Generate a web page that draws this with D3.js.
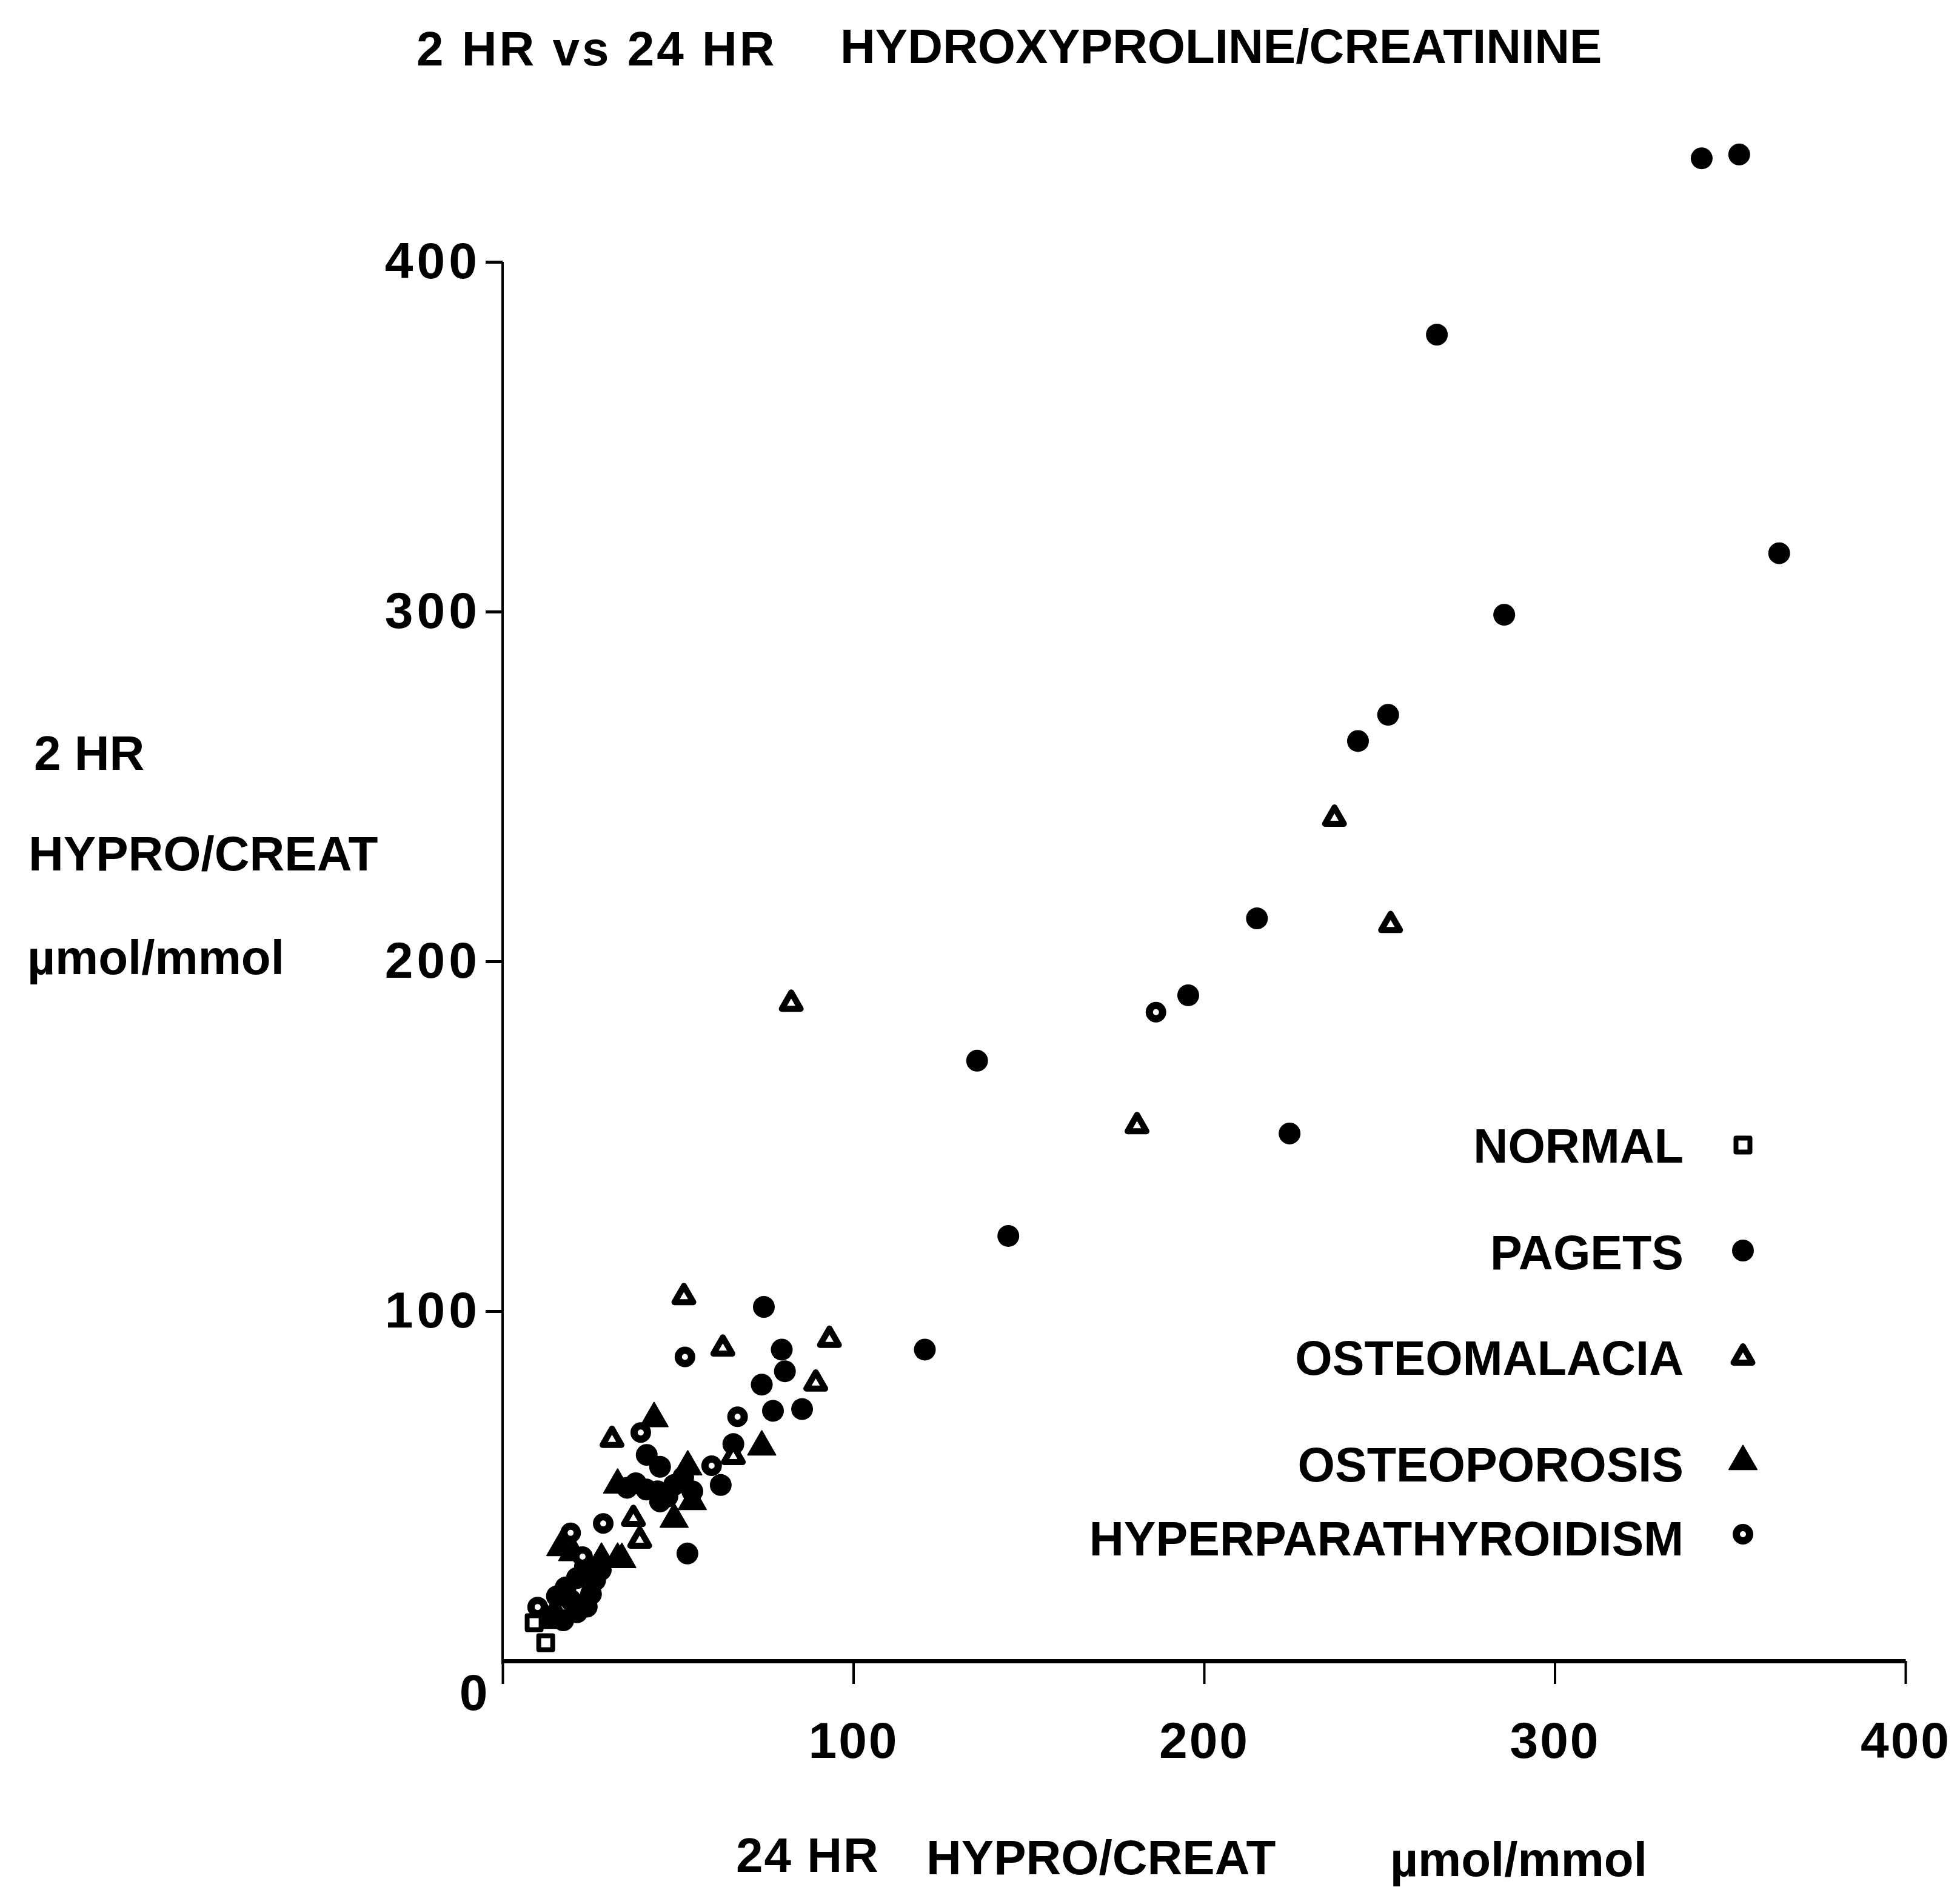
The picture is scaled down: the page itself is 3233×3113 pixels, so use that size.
<!DOCTYPE html>
<html>
<head>
<meta charset="utf-8">
<script src="https://cdn.jsdelivr.net/npm/d3@7"></script>
<style>
  html, body { margin: 0; padding: 0; background: #fff; }
  svg { display: block; }
  text { font-family: "Liberation Sans", Arial, Helvetica, sans-serif; font-weight: bold; fill: #000; }
</style>
</head>
<body>
<script>
// ---------- data (x = 24 HR hypro/creat, y = 2 HR hypro/creat, µmol/mmol) ----------
const normal = [[12.3, 5.2], [9.0, 10.9]];

const pagets = [
  [341.9, 429.6], [352.6, 430.7], [266.4, 379.2], [364.0, 316.7], [285.6, 299.1],
  [252.5, 270.5], [243.9, 263.0], [215.1, 212.3], [195.5, 190.3], [135.3, 171.6],
  [224.4, 150.8], [144.2, 121.5], [120.4, 89.0],
  [74.5, 101.2], [79.6, 89.0], [80.5, 82.8], [73.9, 79.0], [77.1, 71.5], [85.4, 72.0],
  [65.8, 62.0], [62.2, 50.3], [52.7, 30.7],
  [41.1, 58.9], [44.9, 55.5], [38.0, 50.8], [44.2, 48.5], [48.9, 50.3], [54.1, 48.5],
  [44.9, 45.6], [35.5, 49.5], [41.0, 49.0], [51.5, 52.5], [47.0, 47.0],
  [21.2, 23.7], [26.4, 23.1], [19.5, 17.3], [15.5, 18.5], [21.2, 13.9],
  [17.3, 11.6], [25.2, 19.1], [23.5, 27.0], [28.0, 26.0], [18.0, 21.0], [24.0, 15.5]
];

const osteomalacia = [
  [82.3, 188.0], [180.9, 153.0], [237.2, 240.9], [253.2, 210.5], [51.7, 104.1],
  [62.8, 89.4], [93.2, 91.9], [89.3, 79.4], [31.2, 63.3], [37.3, 40.7], [39.1, 34.5],
  [65.8, 58.4]
];

const osteoporosis = [
  [73.9, 61.2], [48.9, 40.5], [43.2, 69.3], [16.6, 32.4], [52.8, 55.5], [32.8, 50.3],
  [54.1, 45.6], [28.2, 29.1], [32.8, 29.1], [34.0, 29.0], [14.9, 13.9], [12.6, 11.6],
  [20.0, 31.0]
];

const hyperparathyroidism = [
  [186.3, 185.5], [52.0, 86.9], [39.4, 65.3], [67.0, 69.8], [59.6, 55.8],
  [28.7, 39.3], [19.4, 36.6], [22.8, 29.8], [10.0, 15.4]
];

const xTicks = [0, 100, 200, 300, 400];
const yTicks = [100, 200, 300, 400];
const legendLabels = ["NORMAL", "PAGETS", "OSTEOMALACIA", "OSTEOPOROSIS", "HYPERPARATHYROIDISM"];

// ---------- layout ----------
const W = 3233, H = 3113;
const svg = d3.select("body").append("svg").attr("width", W).attr("height", H);
svg.append("rect").attr("width", W).attr("height", H).attr("fill", "#fff");

const x = d3.scaleLinear().domain([0, 400]).range([829, 3143]);
const y = d3.scaleLinear().domain([0, 400]).range([2740, 432]);

// ---------- axes ----------
const xAxis = svg.append("g").attr("transform", `translate(0,${y(0)})`)
  .call(d3.axisBottom(x).tickValues(xTicks).tickSize(38).tickSizeOuter(0).tickPadding(62)
    .tickFormat(d => d === 0 ? "" : d));
xAxis.select(".domain").attr("stroke", "#000").attr("stroke-width", 7);
xAxis.selectAll(".tick line").attr("stroke", "#000").attr("stroke-width", 4);
xAxis.selectAll(".tick text").attr("font-size", 84).attr("letter-spacing", 3)
  .attr("font-family", "Liberation Sans").attr("font-weight", "bold").attr("fill", "#000");

const yAxis = svg.append("g").attr("transform", `translate(${x(0)},0)`)
  .call(d3.axisLeft(y).tickValues(yTicks).tickSize(28).tickSizeOuter(0).tickPadding(8));
yAxis.select(".domain").attr("stroke", "#000").attr("stroke-width", 4)
  .attr("d", `M0,${y(0) + 5}V${y(400)}`);
yAxis.selectAll(".tick line").attr("stroke", "#000").attr("stroke-width", 5);
yAxis.selectAll(".tick text").attr("font-size", 84).attr("letter-spacing", 6)
  .attr("font-family", "Liberation Sans").attr("font-weight", "bold").attr("fill", "#000");

svg.append("text").attr("x", 781).attr("y", 2821).attr("text-anchor", "middle")
  .attr("font-size", 84).text("0");

// ---------- titles ----------
const title = svg.append("text").attr("font-size", 80);
title.append("tspan").attr("x", 687).attr("y", 108).attr("letter-spacing", 4).text("2 HR vs 24 HR");
title.append("tspan").attr("x", 1386).attr("y", 104).text("HYDROXYPROLINE/CREATININE");

svg.append("text").attr("x", 56).attr("y", 1270).attr("font-size", 80).text("2 HR");
svg.append("text").attr("x", 47).attr("y", 1436).attr("font-size", 80).text("HYPRO/CREAT");
svg.append("text").attr("x", 45).attr("y", 1607).attr("font-size", 80).text("µmol/mmol");

svg.append("text").attr("x", 1214).attr("y", 3088).attr("font-size", 80).attr("letter-spacing", 2).text("24 HR");
svg.append("text").attr("x", 1528).attr("y", 3092).attr("font-size", 80).text("HYPRO/CREAT");
svg.append("text").attr("x", 2293).attr("y", 3095).attr("font-size", 80).text("µmol/mmol");

// ---------- markers ----------
const styles = {
  pagets:       { path: d3.symbol(d3.symbolCircle, Math.PI * 18 * 18)(), fill: "#000", stroke: "none", sw: 0 },
  osteoporosis: { path: d3.symbol(d3.symbolTriangle, 0.433 * 46 * 46)(), fill: "#000", stroke: "#000", sw: 2 },
  normal:       { path: d3.symbol(d3.symbolSquare, 23 * 23)(), fill: "#fff", stroke: "#000", sw: 8 },
  osteomalacia: { path: d3.symbol(d3.symbolTriangle, 0.433 * 31 * 31)(), fill: "#fff", stroke: "#000", sw: 10 },
  hyper:        { path: d3.symbol(d3.symbolCircle, Math.PI * 11 * 11)(), fill: "#fff", stroke: "#000", sw: 12 }
};

function drawSeries(data, st) {
  svg.append("g").selectAll("path").data(data).join("path")
    .attr("d", st.path)
    .attr("transform", d => `translate(${x(d[0])},${y(d[1])})`)
    .attr("fill", st.fill).attr("stroke", st.stroke).attr("stroke-width", st.sw)
    .attr("stroke-linejoin", "round");
}
drawSeries(pagets, styles.pagets);
drawSeries(osteoporosis, styles.osteoporosis);
drawSeries(normal, styles.normal);
drawSeries(osteomalacia, styles.osteomalacia);
drawSeries(hyperparathyroidism, styles.hyper);

// ---------- legend ----------
const legendY = [1918, 2094, 2268, 2444, 2566];
const legendMarkY = [1889, 2063, 2239, 2411, 2531];
const legendStyles = [styles.normal, styles.pagets, styles.osteomalacia, styles.osteoporosis, styles.hyper];
const lg = svg.append("g");
legendLabels.forEach((lab, i) => {
  lg.append("text").attr("x", 2777).attr("y", legendY[i]).attr("text-anchor", "end")
    .attr("font-size", 79).text(lab);
  const st = legendStyles[i];
  lg.append("path").attr("d", st.path)
    .attr("transform", `translate(2875,${legendMarkY[i]})`)
    .attr("fill", st.fill).attr("stroke", st.stroke).attr("stroke-width", st.sw)
    .attr("stroke-linejoin", "round");
});
</script>
</body>
</html>
